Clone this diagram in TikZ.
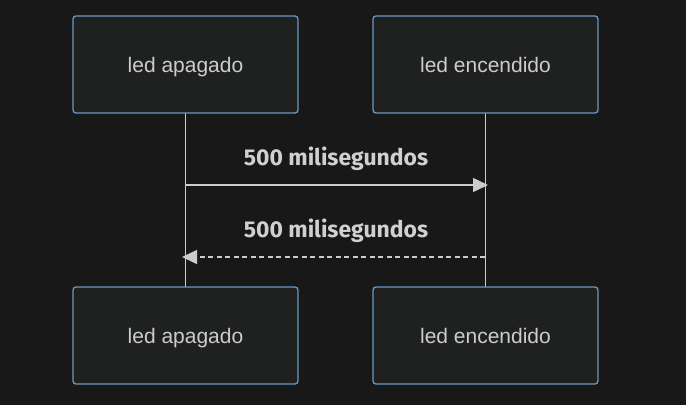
\documentclass[tikz,border=0pt]{standalone}
\usepackage{fontspec}
\setmainfont{Liberation Sans}
\newfontfamily\lblfont{Fira Sans}
\usetikzlibrary{arrows.meta}
\definecolor{bg}{HTML}{181818}
\definecolor{boxfill}{HTML}{1F2020}
\definecolor{boxdraw}{HTML}{6E97BE}
\definecolor{ink}{HTML}{CCCCCC}
\definecolor{lbl}{HTML}{D0D0D0}
\tikzset{
  actor/.style={draw=boxdraw, fill=boxfill, line width=1.3pt, rounded corners=3pt,
    minimum width=225pt, minimum height=97pt, inner sep=0pt, text=ink,
    text height=17pt, text depth=2pt,
    font=\fontsize{21}{24}\selectfont},
  life/.style={draw=ink, line width=0.6pt},
  msg/.style={draw=ink, line width=1.5pt, -{Triangle[length=15pt,width=14pt]}},
  msgtxt/.style={text=lbl, font=\lblfont\bfseries\fontsize{22.9}{26}\selectfont}
}
\begin{document}
\begin{tikzpicture}[x=1pt,y=1pt]
\fill[bg] (0,0) rectangle (686,-405);
\useasboundingbox (0,0) rectangle (686,-405);
\coordinate (l1top) at (185,-113);
\coordinate (l1bot) at (185,-287);
\coordinate (l2top) at (485,-113);
\coordinate (l2bot) at (485,-287);
\draw[life] (l1top) -- (l1bot);
\draw[life] (l2top) -- (l2bot);
\node[actor] (a1) at (185.5,-64.5) {led apagado};
\node[actor] (b1) at (485.5,-64.5) {led encendido};
\node[actor] (a2) at (185.5,-335.5) {led apagado};
\node[actor] (b2) at (485.5,-335.5) {led encendido};
\coordinate (m1s) at (185,-185);
\coordinate (m1e) at (488,-185);
\coordinate (m2s) at (485,-257);
\coordinate (m2e) at (182,-257);
\draw[msg] (m1s) -- (m1e);
\draw[msg, dash pattern=on 5pt off 3.5pt] (m2s) -- (m2e);
\node[msgtxt] (t1) at (336,-159) {500 milisegundos};
\node[msgtxt] (t2) at (336,-231) {500 milisegundos};
\end{tikzpicture}
\end{document}
